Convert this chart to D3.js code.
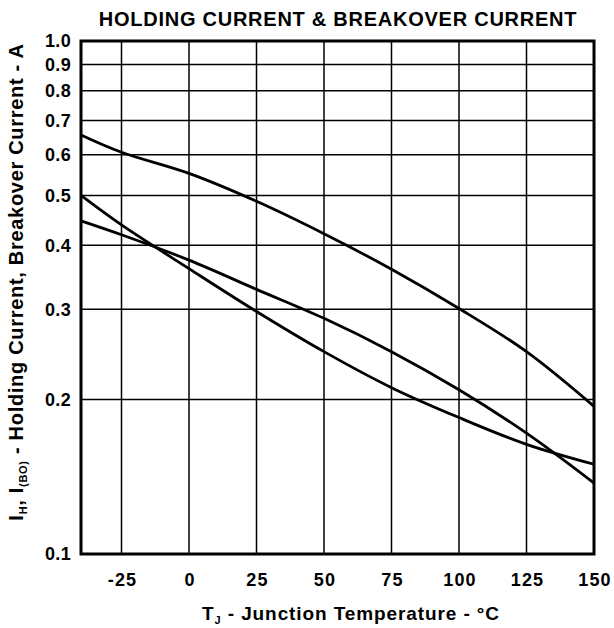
<!DOCTYPE html>
<html>
<head>
<meta charset="utf-8">
<script src="https://cdn.jsdelivr.net/npm/d3@7"></script>
<style>
  body { margin: 0; background: #fff; }
  svg { display: block; }
  text { font-family: "Liberation Sans", Arial, sans-serif; font-weight: bold; fill: #000; }
</style>
</head>
<body>
<svg id="chart" width="614" height="628"></svg>
<script>
const temps = [-40, -25, 0, 25, 50, 75, 100, 125, 150];
const upperCurve = [0.656, 0.607, 0.552, 0.487, 0.421, 0.359, 0.301, 0.248, 0.194];
const steepCurve = [0.5, 0.438, 0.36, 0.297, 0.248, 0.211, 0.1845, 0.1636, 0.1496];
const flatCurve = [0.446, 0.419, 0.374, 0.328, 0.288, 0.248, 0.209, 0.172, 0.1375];
const xTicks = [-25, 0, 25, 50, 75, 100, 125, 150];
const yTicks = [0.1, 0.2, 0.3, 0.4, 0.5, 0.6, 0.7, 0.8, 0.9, 1.0];

const svg = d3.select("#chart");
const plotLeft = 81, plotRight = 594, plotTop = 41, plotBottom = 554;

const x = d3.scaleLinear().domain([-40, 150]).range([plotLeft, plotRight]);
const y = d3.scaleLog().domain([0.1, 1]).range([plotBottom, plotTop]);

// grid
svg.append("g")
  .selectAll("line")
  .data(xTicks.filter((t) => t < 150))
  .join("line")
  .attr("x1", (d) => x(d)).attr("x2", (d) => x(d))
  .attr("y1", plotTop).attr("y2", plotBottom)
  .attr("stroke", "#000").attr("stroke-width", 1.5);

svg.append("g")
  .selectAll("line")
  .data(yTicks.filter((t) => t > 0.1 && t < 1))
  .join("line")
  .attr("x1", plotLeft).attr("x2", plotRight)
  .attr("y1", (d) => y(d)).attr("y2", (d) => y(d))
  .attr("stroke", "#000").attr("stroke-width", 1.5);

// curves
const line = d3.line()
  .x((d) => x(d[0]))
  .y((d) => y(d[1]))
  .curve(d3.curveCatmullRom.alpha(0.5));

[upperCurve, steepCurve, flatCurve].forEach((vals) => {
  svg.append("path")
    .attr("d", line(temps.map((t, i) => [t, vals[i]])))
    .attr("fill", "none")
    .attr("stroke", "#000")
    .attr("stroke-width", 2.8);
});

// frame
svg.append("rect")
  .attr("x", plotLeft).attr("y", plotTop)
  .attr("width", plotRight - plotLeft).attr("height", plotBottom - plotTop)
  .attr("fill", "none").attr("stroke", "#000").attr("stroke-width", 3);

// tick labels
svg.append("g")
  .selectAll("text")
  .data(yTicks)
  .join("text")
  .attr("x", 71)
  .attr("y", (d) => y(d))
  .attr("dy", "0.36em")
  .attr("text-anchor", "end")
  .attr("font-size", 18)
  .attr("letter-spacing", 0.3)
  .text((d) => d3.format(".1f")(d));

svg.append("g")
  .selectAll("text")
  .data(xTicks)
  .join("text")
  .attr("x", (d) => x(d) + 1)
  .attr("y", 586)
  .attr("text-anchor", "middle")
  .attr("font-size", 18)
  .attr("letter-spacing", 1.2)
  .text((d) => d);

// titles
svg.append("text")
  .attr("x", 338)
  .attr("y", 26)
  .attr("text-anchor", "middle")
  .attr("font-size", 20)
  .attr("letter-spacing", 0.75)
  .text("HOLDING CURRENT & BREAKOVER CURRENT");

const xTitle = svg.append("text")
  .attr("x", 351)
  .attr("y", 620)
  .attr("text-anchor", "middle")
  .attr("font-size", 19)
  .attr("letter-spacing", 0.9);
xTitle.append("tspan").text("T");
xTitle.append("tspan").attr("font-size", 11).attr("dy", 4).text("J");
xTitle.append("tspan").attr("dy", -4).text(" - Junction Temperature - °C");

const yTitle = svg.append("text")
  .attr("transform", "translate(23,282) rotate(-90)")
  .attr("text-anchor", "middle")
  .attr("font-size", 20)
  .attr("letter-spacing", 0.7);
yTitle.append("tspan").text("I");
yTitle.append("tspan").attr("font-size", 11).attr("dy", 4).text("H");
yTitle.append("tspan").attr("dy", -4).text(", I");
yTitle.append("tspan").attr("font-size", 11).attr("dy", 4).text("(BO)");
yTitle.append("tspan").attr("dy", -4).text(" - Holding Current, Breakover Current - A");
</script>
</body>
</html>
